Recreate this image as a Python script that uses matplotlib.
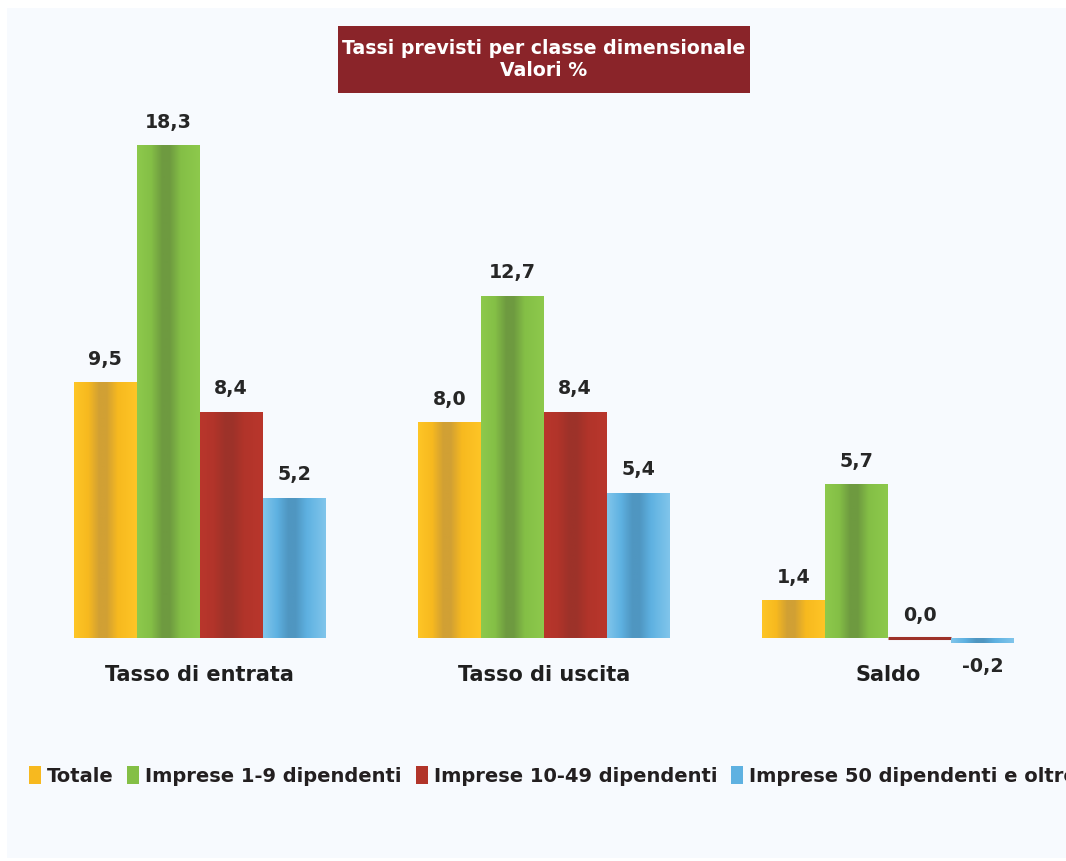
import matplotlib
matplotlib.use("Agg")
import matplotlib.pyplot as plt
import numpy as np
from matplotlib.colors import LinearSegmentedColormap
from matplotlib.patches import Rectangle, Patch

# dati (valori %)
categorie = ["Tasso di entrata", "Tasso di uscita", "Saldo"]
serie = ["Totale", "Imprese 1-9 dipendenti", "Imprese 10-49 dipendenti",
         "Imprese 50 dipendenti e oltre"]
totale = [9.5, 8.0, 1.4]
imprese_1_9 = [18.3, 12.7, 5.7]
imprese_10_49 = [8.4, 8.4, 0.0]
imprese_50 = [5.2, 5.4, -0.2]

valori = [totale, imprese_1_9, imprese_10_49, imprese_50]

# colori: bordo chiaro, intermedio, centro scuro (effetto cilindro)
colori = [
    ("#FEC526", "#F7B91F", "#D1A034"),
    ("#8DC94C", "#84BF46", "#6E9A40"),
    ("#B9362C", "#B1342A", "#9D3229"),
    ("#80C5EB", "#5EB1E1", "#4F96C1"),
]

fig = plt.figure(figsize=(10.66, 8.61), dpi=100, facecolor="white")

# pannello di sfondo
fig.add_artist(Rectangle((7 / 1066, 3 / 861), 1, 850 / 861,
                         transform=fig.transFigure, facecolor="#F7FAFE",
                         edgecolor="none", zorder=0))

ax = fig.add_axes([27.4 / 1066, (861 - 691.9) / 861, 1032.7 / 1066, 22 * 26.94 / 861])
ax.set_facecolor("none")

x = np.arange(len(categorie))
w = 63 / 344.25

for i, (vals, col) in enumerate(zip(valori, colori)):
    vals = np.array(vals)
    pos = x + (i - 1.5) * w
    lw = np.where(vals == 0, 2.2, 0)
    bars = ax.bar(pos, vals, width=w, color=col[1], edgecolor=col[2],
                  linewidth=lw, zorder=2)
    cmap = LinearSegmentedColormap.from_list(
        "g%d" % i, [(0, col[0]), (0.22, col[1]), (0.4, col[2]),
                    (0.52, col[2]), (0.7, col[1]), (1, col[0])])
    grad = np.linspace(0, 1, 64).reshape(1, -1)
    for b, v in zip(bars, vals):
        if v == 0:
            continue
        x0 = b.get_x()
        y0 = b.get_y()
        im = ax.imshow(grad, extent=[x0, x0 + b.get_width(), y0, y0 + b.get_height()],
                       cmap=cmap, aspect="auto", interpolation="bilinear", zorder=3)
        im.set_clip_path(b)
    for p, v in zip(pos, vals):
        off = 23 if v >= 0 else -23
        ax.annotate(f"{v:.1f}".replace(".", ","), (p, v), xytext=(0, off * 0.72),
                    textcoords="offset points", ha="center", va="center",
                    fontsize=13.7, fontweight="bold", color="#262626")

for xi, c in zip(x, categorie):
    ax.annotate(c, (xi, 0), xytext=(0, -37 * 0.72), textcoords="offset points",
                ha="center", va="center", fontsize=15, fontweight="bold",
                color="#1F1F1F")

ax.set_xlim(-0.5, 2.5)
ax.set_ylim(-2, 20)
ax.axis("off")

# titolo
fig.add_artist(Rectangle((338 / 1066, (861 - 93) / 861), 412 / 1066, 67 / 861,
                         transform=fig.transFigure, facecolor="#8A2429",
                         edgecolor="none", zorder=4))
fig.text(544 / 1066, 1 - 59.5 / 861, "Tassi previsti per classe dimensionale\nValori %",
         ha="center", va="center", color="white", fontsize=13.6, fontweight="bold",
         linespacing=1.2, zorder=5)

handles = [Patch(facecolor=c[1], edgecolor="none") for c in colori]
fig.legend(handles, serie, loc="center left", bbox_to_anchor=(21 / 1066, 1 - 776 / 861),
           ncol=4, frameon=False, handlelength=0.62, handleheight=1.0,
           handletextpad=0.3, columnspacing=0.72, borderaxespad=0,
           prop={"weight": "bold", "size": 14}, labelcolor="#231F20")

fig.savefig("out.png", dpi=100, facecolor="white")
